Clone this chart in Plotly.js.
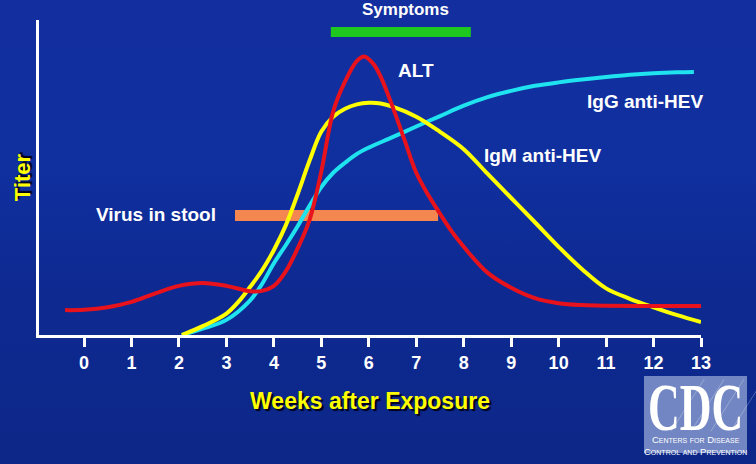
<!DOCTYPE html>
<html>
<head>
<meta charset="utf-8">
<script src="https://cdn.plot.ly/plotly-3.0.1.min.js"></script>
<style>
html,body{margin:0;padding:0;width:756px;height:464px;overflow:hidden;
background:linear-gradient(180deg,#132e9e 0%,#1030a0 35%,#0e2a92 60%,#0d2788 100%);}
#chart{width:756px;height:464px;}
</style>
</head>
<body>
<div id="chart"></div>
<script>
// ---- data (weeks after exposure, relative titer 0-100) ----
const tickWeeks = [0,1,2,3,4,5,6,7,8,9,10,11,12,13];
const tickLabels = ["0","1","2","3","4","5","6","7","8","9","10","11","12","13"];

const altWeeks = [-0.4,0,0.5,1,1.5,2,2.5,3,3.5,3.75,4,4.25,4.5,4.75,5,5.25,5.5,5.75,5.9,6.1,6.25,6.5,6.75,7,7.25,7.5,7.75,8,8.5,9,9.5,10,10.5,11,12,13];
const altTiter = [7.9,8.0,8.8,10.5,13.2,15.6,16.5,15.6,13.9,14.0,15.6,20.2,27.5,36.5,52,71,80.5,87,88.4,86,82,72.5,62,51.5,44.5,38.5,32.8,28,19.8,15,11.7,10.1,9.5,9.3,9.2,9.2];

const igmWeeks = [2.06,2.5,3,3.25,3.5,3.75,4,4.25,4.5,4.75,5,5.25,5.5,5.75,6,6.25,6.5,7,7.5,8,8.5,9,9.5,10,10.5,11,11.5,12,12.5,13];
const igmTiter = [0,2.8,6.8,10.5,15.3,20.5,27,34.8,44.7,55.3,64.6,69.3,71.8,73.2,73.7,73.5,72.5,69.3,64.5,59,51.2,43.5,35.8,28,20.8,14.8,11.5,8.8,6.3,4.1];

const iggWeeks = [2.06,2.5,3,3.5,3.75,4,4.25,4.5,4.75,5,5.25,5.5,5.75,6,6.5,7,7.5,8,8.5,9,9.5,10,10.5,11,11.5,12,12.5,12.85];
const iggTiter = [0,2,4.8,11,16.2,22.8,28.5,34.5,41,47,51.5,54.7,57.5,59.5,62.8,66.2,69.5,72.8,75.5,77.5,79.1,80.2,81.1,81.9,82.6,83.1,83.4,83.5];

const symptomsWeeks = [5.2, 8.15];
const symptomsLevel = [96.2, 96.2];
const stoolWeeks = [3.18, 7.46];
const stoolLevel = [37.9, 37.9];

const labelFont = {family:"Liberation Sans, Arial, sans-serif", size:19, color:"#ffffff", weight:"bold"};
const smallCaps = {family:"Liberation Sans, Arial, sans-serif", size:9.5, color:"#ffffff", variant:"small-caps"};

const traces = [
  {x:stoolWeeks, y:stoolLevel, mode:"lines", line:{color:"#f4874f", width:11}, name:"Virus in stool"},
  {x:symptomsWeeks, y:symptomsLevel, mode:"lines", line:{color:"#1ec81e", width:10}, name:"Symptoms", cliponaxis:false},
  {x:iggWeeks, y:iggTiter, mode:"lines", line:{color:"#1fe3ef", width:4, shape:"spline", smoothing:1}, name:"IgG anti-HEV"},
  {x:igmWeeks, y:igmTiter, mode:"lines", line:{color:"#ffff00", width:4, shape:"spline", smoothing:1}, name:"IgM anti-HEV"},
  {x:altWeeks, y:altTiter, mode:"lines", line:{color:"#e8121c", width:4, shape:"spline", smoothing:1}, name:"ALT"}
];

// faint rays across the CDC emblem
const rays = [];
[0.955,0.985,1.015,1.045].forEach(function(x0){
  rays.push({type:"line", xref:"paper", yref:"paper", x0:x0, y0:-0.305, x1:x0+0.05, y1:-0.14,
    line:{color:"rgba(255,255,255,0.28)", width:1}, layer:"below"});
});

const layout = {
  width:756, height:464,
  margin:{l:39, r:55, t:20, b:129},
  paper_bgcolor:"rgba(0,0,0,0)",
  plot_bgcolor:"rgba(0,0,0,0)",
  showlegend:false,
  hovermode:false,
  xaxis:{
    range:[-0.95,13], showgrid:false, zeroline:false,
    showline:true, linecolor:"#ffffff", linewidth:3,
    tickmode:"array", tickvals:tickWeeks, ticktext:tickLabels,
    ticks:"outside", ticklen:9, tickwidth:3, tickcolor:"#ffffff",
    tickfont:{family:"Liberation Sans, Arial, sans-serif", size:18, color:"#ffffff", weight:"bold"},
    title:{text:"Weeks after Exposure", standoff:22,
      font:{family:"Liberation Sans, Arial, sans-serif", size:23, color:"#ffff00", weight:"bold", shadow:"2px 2px 1px #00001a"}}
  },
  yaxis:{
    range:[0,100], showgrid:false, zeroline:false,
    showline:true, linecolor:"#ffffff", linewidth:3,
    showticklabels:false, ticks:"",
    title:{text:"Titer", standoff:0,
      font:{family:"Liberation Sans, Arial, sans-serif", size:22, color:"#ffff00", weight:"bold", shadow:"2px 2px 1px #00001a"}}
  },
  annotations:[
    {x:0.553, y:1.032, xref:"paper", yref:"paper", xanchor:"center", yanchor:"middle", text:"Symptoms", showarrow:false, font:Object.assign({}, labelFont, {size:17})},
    {x:7.0, y:84.1, xref:"x", yref:"y", text:"ALT", showarrow:false, font:labelFont},
    {x:11.82, y:74.0, xref:"x", yref:"y", text:"IgG anti-HEV", showarrow:false, font:labelFont},
    {x:9.67, y:57.1, xref:"x", yref:"y", text:"IgM anti-HEV", showarrow:false, font:labelFont},
    {x:2.82, y:38.1, xref:"x", yref:"y", text:"Virus in stool", xanchor:"right", showarrow:false, font:labelFont},
    {x:0.9917, y:-0.231, xref:"paper", yref:"paper", xanchor:"center", yanchor:"middle", text:"CDC", showarrow:false,
      font:{family:"Liberation Serif, Times New Roman, serif", size:44, color:"#ffffff", weight:"bold"}},
    {x:0.9917, y:-0.3505, xref:"paper", yref:"paper", xanchor:"center", yanchor:"middle", align:"center",
      text:"Centers for Disease<br>Control and Prevention", showarrow:false, font:smallCaps}
  ],
  shapes:[
    {type:"rect", xref:"paper", yref:"paper", x0:0.9139, x1:1.0695, y0:-0.3746, y1:-0.1302,
      fillcolor:"#7186c2", line:{width:0}, layer:"below"}
  ].concat(rays)
};

Plotly.newPlot("chart", traces, layout, {staticPlot:true}).then(function(gd){
  // stretch the CDC logotype vertically like the original emblem
  gd.querySelectorAll(".annotation-text").forEach(function(t){
    if (t.textContent === "CDC") {
      const b = t.getBBox();
      const cy = b.y + b.height/2;
      t.setAttribute("transform", "translate(0," + cy + ") scale(1,1.55) translate(0," + (-cy) + ")");
    }
  });
});
</script>
</body>
</html>
